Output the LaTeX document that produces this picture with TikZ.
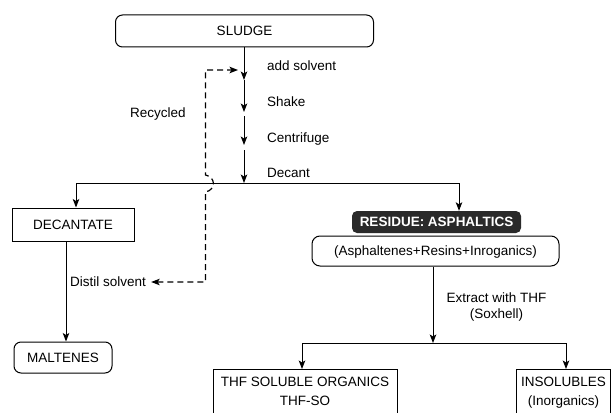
\documentclass[tikz,border=0pt]{standalone}
\usepackage{fontspec}
\setmainfont{Liberation Sans}
\usetikzlibrary{arrows.meta}
\definecolor{darkfill}{HTML}{2A2A2A}
\begin{document}
\begin{tikzpicture}[x=1pt,y=-1pt,
  txt/.style={font=\fontsize{13.5}{16}\selectfont},
  one/.style={txt,text height=9.7pt,text depth=0pt,inner sep=0pt},
  lbl/.style={one,anchor=west},
  boxr/.style={one,draw,line width=1pt,rounded corners=7pt},
  boxs/.style={one,draw,line width=1pt},
  tall/.style={txt,draw,line width=1pt,align=center,anchor=north,
    inner xsep=5pt,inner ysep=8pt,text depth=14pt,
    font=\fontsize{13.5}{19}\selectfont},
  conn/.style={line width=1pt},
  arr/.style={conn,-{Stealth[length=8.5pt,width=6.5pt,inset=2pt]}},
  dsh/.style={line width=1.2pt,dash pattern=on 6pt off 4pt,
    {Stealth[length=8.5pt,width=6.5pt,inset=2pt]}-{Stealth[length=8.5pt,width=6.5pt,inset=2pt]}}
]
\useasboundingbox (0,0) rectangle (612,412);
\clip (0,0) rectangle (612,412);

% boxes
\node[boxr,minimum width=258pt,minimum height=32pt] (sludge) at (244.5,31) {SLUDGE};
\node[boxs,minimum width=122pt,minimum height=33pt] (decantate) at (73,224.5) {DECANTATE};
\node[boxr,minimum width=98pt,minimum height=31pt] (maltenes) at (63,357.5) {MALTENES};
\node[one,fill=darkfill,text=white,font=\fontsize{13.5}{16}\selectfont\bfseries,
      rounded corners=5pt,minimum width=169pt,minimum height=22pt] (residue) at (436.5,222) {RESIDUE: ASPHALTICS};
\node[boxr,rounded corners=8pt,minimum width=247pt,minimum height=30pt] (asph) at (435.5,251) {(Asphaltenes+Resins+Inroganics)};
\node[tall,minimum width=184pt] (thf) at (305,369) {THF SOLUBLE ORGANICS\\THF-SO};
\node[tall,minimum width=93pt] (insol) at (563.5,369) {INSOLUBLES\\(Inorganics)};

% labels
\node[lbl] (addsolv) at (267,66) {add solvent};
\node[lbl] (shake) at (267,102) {Shake};
\node[lbl] (centri) at (267,138) {Centrifuge};
\node[lbl] (decant) at (267,173) {Decant};
\node[lbl] (recyc) at (130,113) {Recycled};
\node[lbl] (distil) at (70,282) {Distil solvent};
\node[txt,align=center,font=\fontsize{13.5}{16}\selectfont,inner sep=0pt] (extract) at (496.5,307) {Extract with THF\\(Soxhell)};

% main line
\coordinate (p1) at (244,80);
\coordinate (p2) at (244,112);
\coordinate (p3) at (244,116);
\coordinate (p4) at (244,145);
\coordinate (p5) at (244,150);
\coordinate (j) at (244,183);
\draw[arr] (sludge.south -| p1) -- (p1);
\draw[arr] (p1) -- (p2);
\draw[arr] (p3) -- (p4);
\draw[arr] (p5) -- (j);

% split
\draw[arr] (j) -| ([xshift=3pt]decantate.north);
\draw[arr] (j) -| ([xshift=22.5pt]residue.north);
\draw[arr] ([xshift=-7pt]decantate.south) -- ([xshift=-7pt]decantate.south |- maltenes.north);

% lower split
\coordinate (k) at (433,343);
\draw[arr] (asph.south -| k) -- (k);
\draw[arr] (k) -| ([xshift=-3pt]thf.north);
\draw[arr] (k) -| ([xshift=2.5pt]insol.north);

% recycle dashed
\coordinate (d1) at (205.5,282);
\coordinate (d2) at (205.5,192);
\coordinate (d3) at (205.5,175);
\coordinate (d4) at (205.5,70);
\coordinate (rin) at (238,70);
\draw[dsh] ([xshift=5pt]distil.east) -- (d1) -- (d2)
   .. controls (216,190) and (216,177) .. (d3) -- (d4) -- (rin);
\end{tikzpicture}
\end{document}
